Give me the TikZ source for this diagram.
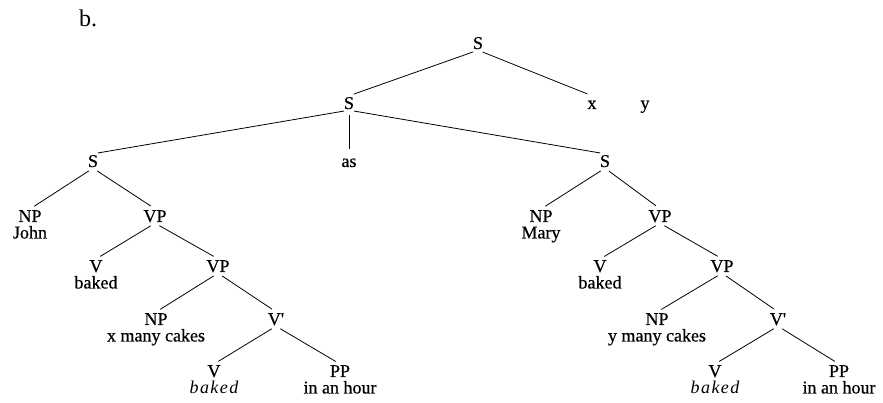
\documentclass[tikz,border=0pt]{standalone}
\usepackage{fontspec}
\setmainfont{Liberation Serif}
\newfontfamily\labfont[FakeBold=0.5]{Liberation Serif}
\newfontfamily\spacedit[LetterSpace=8]{Liberation Serif}
\begin{document}
\begin{tikzpicture}[x=1pt,y=-1pt,
  lab/.style={anchor=base,font=\fontsize{18}{20}\labfont,inner xsep=0pt,inner ysep=1pt,text height=12pt,text depth=0pt},
  leaf/.style={anchor=north,align=center,font=\fontsize{18}{16.5}\labfont,inner xsep=0pt,inner ysep=1pt},
  edge/.style={draw,line width=0.8pt,shorten <=5pt,shorten >=5pt}]
\useasboundingbox (0,0) rectangle (883,403);
\node[anchor=base,font=\fontsize{24}{26}\selectfont,inner sep=0pt] (b) at (88,27) {b.};
% top
\node[lab] (s0) at (478,49) {S};
\node[lab] (s1) at (349,109) {S};
\node[lab] (x) at (592,109) {x};
\node[lab] (y) at (645,109) {y};
\node[lab] (sl) at (93,167) {S};
\node[lab] (as) at (349,167) {as};
\node[lab] (sr) at (605,167) {S};
% left clause
\node[leaf] (npl) at (30,209) {NP\\John};
\node[lab] (vpl) at (155,222) {VP};
\node[leaf] (vl) at (96,259) {V\\baked};
\node[lab] (vpl2) at (218,272) {VP};
\node[leaf] (npl2) at (156,312) {NP\\x many cakes};
\node[lab] (vbl) at (276,325) {V\textquotesingle};
\node[leaf] (vl2) at (214,364) {V\\{\spacedit\itshape baked}};
\node[leaf] (ppl) at (340,364) {PP\\in an hour};
% right clause
\node[leaf] (npr) at (541,209) {NP\\Mary};
\node[lab] (vpr) at (660,222) {VP};
\node[leaf] (vr) at (600,259) {V\\baked};
\node[lab] (vpr2) at (722,272) {VP};
\node[leaf] (npr2) at (657,312) {NP\\y many cakes};
\node[lab] (vbr) at (778,325) {V\textquotesingle};
\node[leaf] (vr2) at (715,364) {V\\{\spacedit\itshape baked}};
\node[leaf] (ppr) at (839,364) {PP\\in an hour};
% edges
\draw[edge] (s0.south) -- (s1.north);
\draw[edge] (s0.south) -- (x.north);
\draw[edge] (s1.south) -- (sl.north);
\draw[edge] (s1.south) -- (as.north);
\draw[edge] (s1.south) -- (sr.north);
\draw[edge] (sl.south) -- (npl.north);
\draw[edge] (sl.south) -- (vpl.north);
\draw[edge] (vpl.south) -- (vl.north);
\draw[edge] (vpl.south) -- (vpl2.north);
\draw[edge] (vpl2.south) -- (npl2.north);
\draw[edge] (vpl2.south) -- (vbl.north);
\draw[edge] (vbl.south) -- (vl2.north);
\draw[edge] (vbl.south) -- (ppl.north);
\draw[edge] (sr.south) -- (npr.north);
\draw[edge] (sr.south) -- (vpr.north);
\draw[edge] (vpr.south) -- (vr.north);
\draw[edge] (vpr.south) -- (vpr2.north);
\draw[edge] (vpr2.south) -- (npr2.north);
\draw[edge] (vpr2.south) -- (vbr.north);
\draw[edge] (vbr.south) -- (vr2.north);
\draw[edge] (vbr.south) -- (ppr.north);
\end{tikzpicture}
\end{document}
